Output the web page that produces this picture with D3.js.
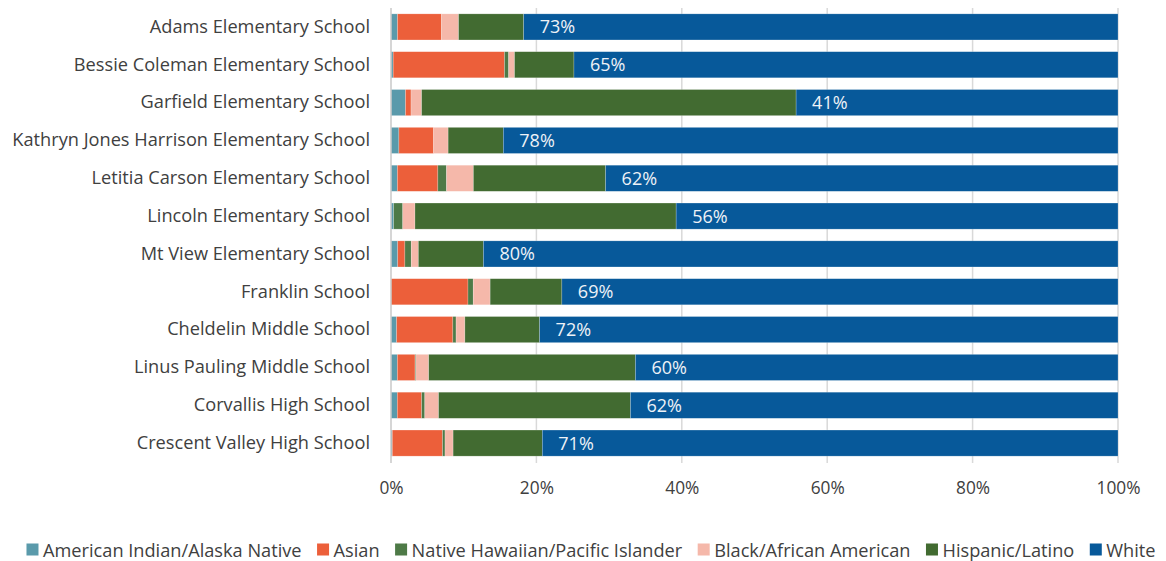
<!DOCTYPE html>
<html>
<head>
<meta charset="utf-8">
<script src="https://cdn.jsdelivr.net/npm/d3@7"></script>
<style>
  body { margin: 0; background: #ffffff; }
  svg { display: block; font-family: "Open Sans", Lato, sans-serif; }
</style>
</head>
<body>
<svg id="chart" width="1166" height="561"></svg>
<script>
// ---- Data (percent of enrollment) ----
const schools = [
  "Adams Elementary School",
  "Bessie Coleman Elementary School",
  "Garfield Elementary School",
  "Kathryn Jones Harrison Elementary School",
  "Letitia Carson Elementary School",
  "Lincoln Elementary School",
  "Mt View Elementary School",
  "Franklin School",
  "Cheldelin Middle School",
  "Linus Pauling Middle School",
  "Corvallis High School",
  "Crescent Valley High School"
];
const seriesNames = [
  "American Indian/Alaska Native",
  "Asian",
  "Native Hawaiian/Pacific Islander",
  "Black/African American",
  "Hispanic/Latino",
  "White"
];
const americanIndian = [0.8, 0.26, 1.85, 1.0, 0.77, 0.34, 0.85, 0.0, 0.7, 0.79, 0.8, 0.16];
const asian          = [5.4, 13.3, 0.7, 4.4, 4.9, 0.0, 0.9, 9.55, 7.0, 2.2, 3.1, 6.2];
const pacificIslander= [0.0, 0.5, 0.0, 0.0, 1.05, 1.15, 0.8, 0.65, 0.4, 0.1, 0.4, 0.3];
const black          = [2.1, 0.7, 1.35, 1.85, 3.25, 1.55, 0.9, 2.1, 1.1, 1.6, 1.75, 1.0];
const hispanic       = [8.0, 7.1, 47.7, 7.0, 16.0, 33.1, 8.2, 8.9, 9.3, 25.7, 24.4, 11.0];
const white          = [73, 65, 41, 78, 62, 56, 80, 69, 72, 60, 62, 71];
const xTickValues = [0, 0.2, 0.4, 0.6, 0.8, 1.0];

const colors = ["#5a9aab", "#ec5f3a", "#4e7a47", "#f5b8aa", "#426b31", "#07599a"];

// ---- Build table ----
const seriesArrays = [americanIndian, asian, pacificIslander, black, hispanic, white];
const rows = schools.map((s, i) => {
  const r = { school: s };
  seriesNames.forEach((k, j) => r[k] = seriesArrays[j][i]);
  return r;
});

const svg = d3.select("#chart");
const margin = { left: 391, right: 48, top: 8, bottom: 99 };
const W = 1166, H = 561;
const FONT = "'Open Sans', Lato, sans-serif";

const x = d3.scaleLinear().domain([0, 1]).range([margin.left, W - margin.right]);
const y = d3.scaleBand().domain(schools).range([margin.top, H - margin.bottom]).paddingInner(0.31).paddingOuter(0.155);
const color = d3.scaleOrdinal().domain(seriesNames).range(colors);

const stack = d3.stack().keys(seriesNames).offset(d3.stackOffsetExpand);
const stacked = stack(rows);

// gridlines
svg.append("g").selectAll("line")
  .data(xTickValues.slice(1))
  .join("line")
  .attr("x1", d => x(d)).attr("x2", d => x(d))
  .attr("y1", margin.top).attr("y2", H - margin.bottom + 1)
  .attr("stroke", "#d9d9d9").attr("stroke-width", 1.5);

// bars
svg.append("g").selectAll("g")
  .data(stacked)
  .join("g")
  .attr("fill", d => color(d.key))
  .selectAll("rect")
  .data(d => d)
  .join("rect")
  .attr("x", d => x(d[0]))
  .attr("y", d => y(d.data.school))
  .attr("width", d => Math.max(0, x(d[1]) - x(d[0])))
  .attr("height", y.bandwidth())
  .attr("stroke", "#ffffff").attr("stroke-opacity", 0.35).attr("stroke-width", 0.6);

// zero axis line
svg.append("line")
  .attr("x1", x(0)).attr("x2", x(0))
  .attr("y1", margin.top).attr("y2", H - margin.bottom + 1)
  .attr("stroke", "#c8c8c8").attr("stroke-width", 1.5);

// White labels
const whiteLayer = stacked[stacked.length - 1];
svg.append("g").selectAll("text")
  .data(whiteLayer)
  .join("text")
  .attr("x", d => x(d[0]) + 16)
  .attr("y", d => y(d.data.school) + y.bandwidth() / 2 + 6.5)
  .attr("fill", "#eef2f7")
  .attr("font-size", 18)
  .text(d => Math.round(d.data["White"]) + "%");

// x axis
const xAxis = svg.append("g")
  .attr("transform", `translate(0,${H - margin.bottom})`)
  .call(d3.axisBottom(x).tickValues(xTickValues).tickFormat(d3.format(".0%")).tickSize(0).tickPadding(20));
xAxis.select(".domain").remove();
xAxis.selectAll("text").attr("font-size", 17.3).attr("fill", "#404040").attr("font-family", FONT);

// y axis
const yAxis = svg.append("g")
  .attr("transform", `translate(${margin.left},0)`)
  .call(d3.axisLeft(y).tickSize(0).tickPadding(21));
yAxis.select(".domain").remove();
yAxis.selectAll("text").attr("font-size", 18.2).attr("fill", "#404040").attr("font-family", FONT);

// legend
const legend = svg.append("g").attr("transform", "translate(0,550)");
const items = legend.selectAll("g").data(seriesNames).join("g");
items.append("rect").attr("width", 12).attr("height", 12).attr("y", -6.5).attr("fill", d => color(d));
items.append("text").attr("x", 16.5).attr("y", 6.5).attr("font-size", 18.2).attr("fill", "#404040").text(d => d);
let widths = [];
items.each(function() { widths.push(16.5 + this.querySelector("text").getComputedTextLength()); });
const gap = 15.5;
const total = d3.sum(widths) + gap * (widths.length - 1);
let cx = 591 - total / 2;
items.attr("transform", (d, i) => { const t = `translate(${cx},0)`; cx += widths[i] + gap; return t; });
</script>
</body>
</html>
